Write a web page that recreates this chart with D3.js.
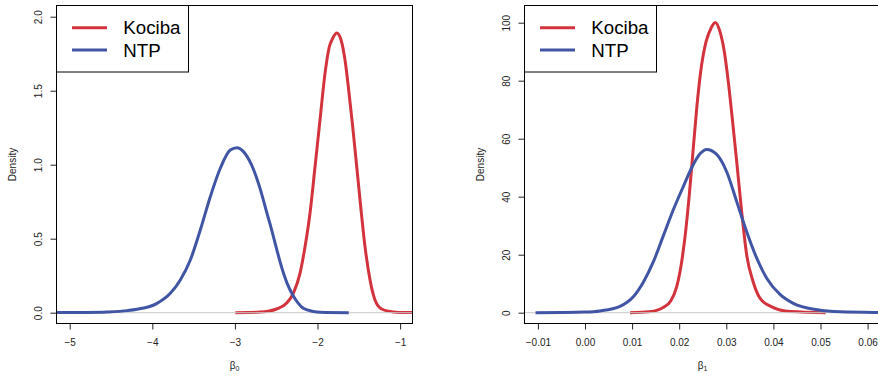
<!DOCTYPE html>
<html>
<head>
<meta charset="utf-8">
<script src="https://cdn.jsdelivr.net/npm/d3@7"></script>
<style>
  html, body { margin: 0; padding: 0; background: #ffffff; }
  svg { display: block; font-family: "Liberation Sans", Arial, Helvetica, sans-serif; }
</style>
</head>
<body>
<svg id="chart" width="878" height="382"></svg>
<script>
// Posterior density of beta0 (intercept) for each study
const kocibaB0X = [-2.995, -2.85, -2.696, -2.60, -2.494, -2.373, -2.293, -2.212, -2.151, -2.091, -2.030, -1.970, -1.909, -1.857, -1.816, -1.768, -1.715, -1.667, -1.627, -1.574, -1.525, -1.477, -1.425, -1.364, -1.304, -1.223, -1.082, -0.950, -0.700];
const kocibaB0Y = [0.000, 0.001, 0.004, 0.010, 0.025, 0.065, 0.131, 0.266, 0.446, 0.672, 0.986, 1.302, 1.617, 1.797, 1.854, 1.890, 1.843, 1.707, 1.527, 1.257, 0.986, 0.716, 0.446, 0.221, 0.086, 0.025, 0.005, 0.001, 0.000];
const ntpB0X = [-5.30, -5.154, -4.80, -4.548, -4.30, -4.185, -3.943, -3.782, -3.661, -3.540, -3.419, -3.298, -3.177, -3.056, -2.975, -2.900, -2.800, -2.696, -2.611, -2.575, -2.490, -2.454, -2.369, -2.300, -2.248, -2.172, -2.050, -1.966, -1.622];
const ntpB0Y = [0.000, 0.001, 0.002, 0.005, 0.014, 0.023, 0.063, 0.131, 0.221, 0.356, 0.559, 0.784, 0.976, 1.099, 1.115, 1.090, 1.000, 0.840, 0.670, 0.600, 0.420, 0.345, 0.200, 0.120, 0.075, 0.030, 0.008, 0.003, 0.000];

// Posterior density of beta1 (slope) for each study
const kocibaB1X = [0.00955, 0.01274, 0.01535, 0.01677, 0.01820, 0.01947, 0.02053, 0.02144, 0.02214, 0.02287, 0.02372, 0.02456, 0.02569, 0.02675, 0.02766, 0.02866, 0.02958, 0.03042, 0.03127, 0.03221, 0.03327, 0.03433, 0.03573, 0.03715, 0.03943, 0.04367, 0.05110];
const kocibaB1Y = [0.0, 0.2, 0.9, 2.0, 4.0, 9.0, 17.6, 29.1, 40.6, 54.4, 70.5, 83.1, 93.4, 98.1, 100.1, 96.9, 90.0, 79.7, 67.0, 52.1, 34.8, 19.9, 10.5, 5.0, 2.2, 0.4, 0.0];
const ntpB1X = [-0.0105, -0.005, 0.000, 0.00318, 0.00743, 0.01026, 0.01238, 0.01450, 0.01662, 0.01875, 0.02087, 0.02265, 0.02442, 0.02584, 0.02796, 0.03008, 0.03221, 0.03433, 0.03646, 0.03858, 0.04140, 0.04423, 0.04932, 0.05429, 0.0626, 0.066];
const ntpB1Y = [0.0, 0.05, 0.2, 0.6, 2.2, 5.5, 10.5, 17.5, 26.5, 35.5, 43.5, 50.0, 54.8, 56.3, 54.6, 48.6, 38.3, 27.9, 18.8, 11.9, 6.3, 3.2, 1.0, 0.3, 0.05, 0.0];

// Axis ticks
const b0Ticks = [-5, -4, -3, -2, -1];
const density0Ticks = [0, 0.5, 1.0, 1.5, 2.0];
const b1Ticks = [-0.01, 0.00, 0.01, 0.02, 0.03, 0.04, 0.05, 0.06];
const density1Ticks = [0, 20, 40, 60, 80, 100];

const seriesNames = ["Kociba", "NTP"];
const seriesColors = ["#d3333d", "#4155a5"];

const svg = d3.select("#chart");

function zip(xs, ys) { return xs.map((x, i) => ({ x: x, y: ys[i] })); }

function drawPanel(p) {
  const x = d3.scaleLinear().domain(p.xDomain).range([p.left, p.right]);
  const y = d3.scaleLinear().domain(p.yDomain).range([p.bottom, p.top]);
  const g = svg.append("g");

  const clipId = "clip-" + p.id;
  svg.append("defs").append("clipPath").attr("id", clipId)
    .append("rect").attr("x", p.left).attr("y", p.top)
    .attr("width", p.right - p.left).attr("height", p.bottom - p.top);

  const line = d3.line().x(d => x(d.x)).y(d => y(d.y)).curve(d3.curveMonotoneX);
  const plot = g.append("g").attr("clip-path", "url(#" + clipId + ")");

  // Kociba curve, then the zero reference line, then NTP on top
  plot.append("path").datum(zip(p.kx, p.ky)).attr("d", line)
    .attr("fill", "none").attr("stroke", seriesColors[0]).attr("stroke-width", 3)
    .attr("stroke-linejoin", "round").attr("stroke-linecap", "butt");
  plot.append("line").attr("x1", p.left).attr("x2", p.right)
    .attr("y1", y(0)).attr("y2", y(0))
    .attr("stroke", "#c8c8c8").attr("stroke-width", 1);
  plot.append("path").datum(zip(p.nx, p.ny)).attr("d", line)
    .attr("fill", "none").attr("stroke", seriesColors[1]).attr("stroke-width", 3)
    .attr("stroke-linejoin", "round").attr("stroke-linecap", "butt");

  // x axis
  const xAxis = g.append("g").attr("transform", "translate(0," + p.bottom + ")")
    .call(d3.axisBottom(x).tickValues(p.xTicks).tickFormat(p.xFormat).tickSize(6).tickPadding(9.6));
  xAxis.select(".domain").remove();
  xAxis.selectAll(".tick line").attr("stroke", "#222");
  xAxis.selectAll("text").attr("font-size", 10).attr("fill", "#222")
    .attr("font-family", "Liberation Sans, Arial, sans-serif");

  // y axis with labels parallel to the axis
  const yAxis = g.append("g").attr("transform", "translate(" + p.left + ",0)")
    .call(d3.axisLeft(y).tickValues(p.yTicks).tickFormat(p.yFormat).tickSize(6));
  yAxis.select(".domain").remove();
  yAxis.selectAll(".tick line").attr("stroke", "#222");
  yAxis.selectAll("text")
    .attr("x", null).attr("dy", null)
    .attr("text-anchor", "middle")
    .attr("transform", "translate(-14.5,0) rotate(-90)")
    .attr("font-size", 10).attr("fill", "#222")
    .attr("font-family", "Liberation Sans, Arial, sans-serif");

  // frame
  g.append("rect").attr("x", p.left).attr("y", p.top)
    .attr("width", p.right - p.left).attr("height", p.bottom - p.top)
    .attr("fill", "none").attr("stroke", "#000").attr("stroke-width", 1);

  // axis titles
  const cx = (p.left + p.right) / 2;
  const xt = g.append("text").attr("x", cx).attr("y", 369.3)
    .attr("text-anchor", "middle").attr("font-size", 10).attr("fill", "#222");
  xt.append("tspan").text("β");
  xt.append("tspan").attr("font-size", 7).attr("dy", 2).text(p.sub);

  g.append("text")
    .attr("transform", "translate(" + (p.left - 40.5) + "," + ((p.top + p.bottom) / 2) + ") rotate(-90)")
    .attr("text-anchor", "middle").attr("font-size", 10).attr("fill", "#222")
    .text("Density");

  // legend
  const lg = g.append("g").attr("transform", "translate(" + p.left + "," + p.top + ")");
  lg.append("rect").attr("x", 0).attr("y", 0).attr("width", 132).attr("height", 66.5)
    .attr("fill", "#fff").attr("stroke", "#000").attr("stroke-width", 1);
  const rows = [22.2, 44.5];
  seriesNames.forEach((name, i) => {
    lg.append("line").attr("x1", 15.5).attr("x2", 50.5)
      .attr("y1", rows[i]).attr("y2", rows[i])
      .attr("stroke", seriesColors[i]).attr("stroke-width", 3);
    lg.append("text").attr("x", 66.8).attr("y", rows[i] + 6.7)
      .attr("font-size", 18.7).attr("fill", "#000").text(name);
  });
}

drawPanel({
  id: "b0", left: 56.5, right: 412.5, top: 5.5, bottom: 323.5,
  xDomain: [-5.160, -0.850], yDomain: [-0.073, 2.0757],
  xTicks: b0Ticks, yTicks: density0Ticks,
  xFormat: d3.format("d"), yFormat: d3.format(".1f"),
  kx: kocibaB0X, ky: kocibaB0Y, nx: ntpB0X, ny: ntpB0Y, sub: "0"
});

drawPanel({
  id: "b1", left: 524.5, right: 880.5, top: 5.5, bottom: 323.5,
  xDomain: [-0.012845, 0.06274], yDomain: [-3.724, 105.93],
  xTicks: b1Ticks, yTicks: density1Ticks,
  xFormat: d3.format(".2f"), yFormat: d3.format("d"),
  kx: kocibaB1X, ky: kocibaB1Y, nx: ntpB1X, ny: ntpB1Y, sub: "1"
});
</script>
</body>
</html>
